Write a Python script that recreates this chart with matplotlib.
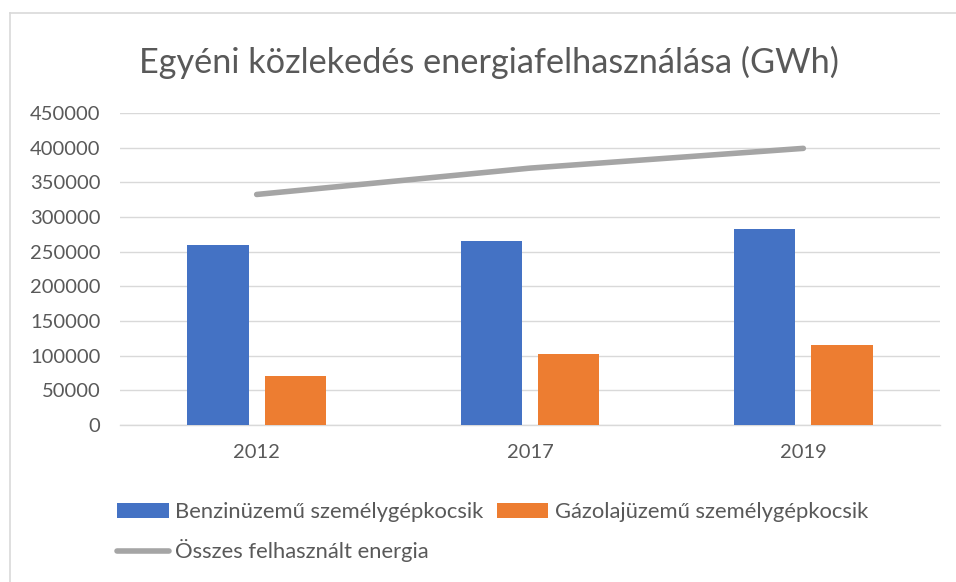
import matplotlib
matplotlib.use("Agg")
import matplotlib.pyplot as plt
from matplotlib.lines import Line2D
import numpy as np

plt.rcParams['font.family'] = ['Lato', 'DejaVu Sans']

# values (GWh)
years = ['2012', '2017', '2019']
benzin = [259000, 265500, 282000]
gazolaj = [71000, 103000, 115000]
osszes = [332500, 370500, 399000]

label_benzin = 'Benzinüzemű személygépkocsik'
label_gazolaj = 'Gázolajüzemű személygépkocsik'
label_osszes = 'Összes felhasznált energia'

text_col = '#595959'
grid_col = '#d9d9d9'

fig = plt.figure(figsize=(9.56, 5.82), dpi=100)
ax = fig.add_axes([120 / 956, 157 / 582, 820 / 956, 312 / 582])

x = np.arange(len(years))
w = 0.225
off = 0.1415
ax.bar(x - off, benzin, w, color='#4472c4', label=label_benzin, zorder=3)
ax.bar(x + off, gazolaj, w, color='#ed7d31', label=label_gazolaj, zorder=3)
ax.plot(x, osszes, color='#a5a5a5', lw=4, solid_capstyle='round', label=label_osszes, zorder=4)

ax.set_xlim(-0.5, 2.5)
ax.set_ylim(0, 450000)
ax.set_yticks(np.arange(0, 450001, 50000))
ax.set_yticklabels([str(v) for v in range(0, 450001, 50000)])
ax.set_xticks(x)
ax.set_xticklabels(years)
ax.tick_params(axis='both', length=0, labelsize=14.5, colors=text_col)
ax.tick_params(axis='y', pad=14)
ax.tick_params(axis='x', pad=14)
ax.yaxis.grid(True, color=grid_col, lw=1, zorder=0)
for s in ['top', 'right', 'left']:
    ax.spines[s].set_visible(False)
ax.spines['bottom'].set_color(grid_col)
ax.spines['bottom'].set_linewidth(1)

fig.text(489 / 956, 1 - 62 / 582, 'Egyéni közlekedés energiafelhasználása (GWh)',
         ha='center', va='center', fontsize=24.7, color=text_col)

# legend: blue/orange on first row, gray line on second
h, l = ax.get_legend_handles_labels()
order = [1, 0, 2]
leg = fig.legend([h[i] for i in order], [l[i] for i in order], ncol=2,
                 loc='upper left', bbox_to_anchor=(106 / 956, 1 - 491 / 582),
                 frameon=False, fontsize=15.8, labelcolor=text_col,
                 handlelength=2.35, handleheight=0.65, handletextpad=0.3,
                 columnspacing=0.6, labelspacing=0.78, borderpad=0)

# chart area border (top and left visible)
fig.add_artist(Line2D([10 / 956, 1], [1 - 13 / 582, 1 - 13 / 582], color=grid_col, lw=1.2))
fig.add_artist(Line2D([10 / 956, 10 / 956], [0, 1 - 13 / 582], color=grid_col, lw=1.2))

fig.savefig('out.png', dpi=100)
